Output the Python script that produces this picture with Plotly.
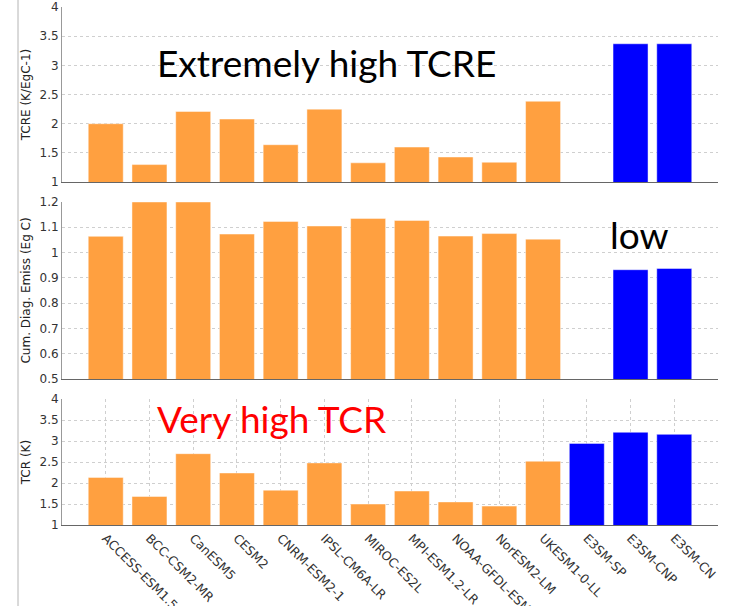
import plotly.graph_objects as go
from plotly.subplots import make_subplots

models = ["ACCESS-ESM1.5", "BCC-CSM2-MR", "CanESM5", "CESM2", "CNRM-ESM2-1",
          "IPSL-CM6A-LR", "MIROC-ES2L", "MPI-ESM1.2-LR", "NOAA-GFDL-ESM4",
          "NorESM2-LM", "UKESM1-0-LL", "E3SM-SP", "E3SM-CNP", "E3SM-CN"]

tcre = [2.00, 1.30, 2.21, 2.08, 1.64, 2.25, 1.33, 1.60, 1.43, 1.34, 2.385, None, 3.37, 3.37]
cum_emiss = [1.064, 1.20, 1.20, 1.073, 1.123, 1.105, 1.135, 1.127, 1.065, 1.075, 1.053, None, 0.932, 0.937]
tcr = [2.135, 1.68, 2.70, 2.24, 1.83, 2.48, 1.50, 1.81, 1.55, 1.45, 2.52, 2.945, 3.21, 3.16]

orange = "#FFA040"
blue = "#0000FF"
colors = [blue if m.startswith("E3SM") else orange for m in models]

fig = make_subplots(rows=3, cols=1)

for i, vals in enumerate([tcre, cum_emiss, tcr], start=1):
    fig.add_trace(go.Bar(x=models, y=vals, marker=dict(color=colors,
                         line=dict(color="rgba(255,255,255,0.45)", width=1)),
                         width=0.8, showlegend=False, hoverinfo="skip"), row=i, col=1)

font_tick = dict(family="DejaVu Sans", size=12, color="#333")
font_xtick = dict(family="DejaVu Sans", size=12.5, color="#333")
font_title = dict(family="DejaVu Sans", size=12, color="#222")

common_x = dict(type="category", categoryorder="array", categoryarray=models,
                range=[-1, 14], showline=True, linecolor="#666", linewidth=1,
                ticks="", tickfont=font_xtick, zeroline=False, automargin=False)
common_y = dict(showline=True, linecolor="#999", linewidth=1, ticks="",
                tickfont=font_tick, gridcolor="#cfcfcf", griddash="dot",
                gridwidth=1, zeroline=False, automargin=False)

fig.update_layout(
    xaxis=dict(common_x, domain=[0, 1], showticklabels=False, showgrid=False, anchor="y"),
    xaxis2=dict(common_x, domain=[0, 1], showticklabels=False, showgrid=False, anchor="y2"),
    xaxis3=dict(common_x, domain=[0, 1], showticklabels=True, tickangle=45,
                showgrid=True, gridcolor="#cfcfcf", griddash="dot", anchor="y3"),
    yaxis=dict(common_y, domain=[0.662, 1.0], range=[1, 4], dtick=0.5,
               title=dict(text="TCRE (K/EgC-1)", font=font_title, standoff=6)),
    yaxis2=dict(common_y, domain=[0.282, 0.6236], range=[0.5, 1.2], dtick=0.1,
                title=dict(text="Cum. Diag. Emiss (Eg C)", font=font_title, standoff=6)),
    yaxis3=dict(common_y, domain=[0, 0.243], range=[1, 4], dtick=0.5,
                title=dict(text="TCR (K)", font=font_title, standoff=6)),
    width=730, height=606,
    margin=dict(l=62, r=12, t=7, b=81, autoexpand=False),
    plot_bgcolor="white", paper_bgcolor="white",
    bargap=0.2,
)

fig.add_annotation(text="Extremely high TCRE", xref="paper", yref="y",
                   x=0.1418, y=3.05, xanchor="left", yanchor="middle", showarrow=False,
                   font=dict(family="Lato", size=37, color="black"))
fig.add_annotation(text="low", xref="paper", yref="y2",
                   x=0.832, y=1.073, xanchor="left", yanchor="middle", showarrow=False,
                   font=dict(family="Lato", size=37, color="black"))
fig.add_annotation(text="Very high TCR", xref="paper", yref="y3",
                   x=0.1418, y=3.55, xanchor="left", yanchor="middle", showarrow=False,
                   font=dict(family="Lato", size=37, color="red"))

fig.add_shape(type="line", xref="paper", yref="paper", x0=-0.067, x1=-0.067,
              y0=-0.16, y1=1.02, line=dict(color="#d9d9d9", width=2))

fig.write_html("out.html", config={"displayModeBar": False},
               post_script="document.body.style.margin='0';document.body.style.overflow='hidden';")
